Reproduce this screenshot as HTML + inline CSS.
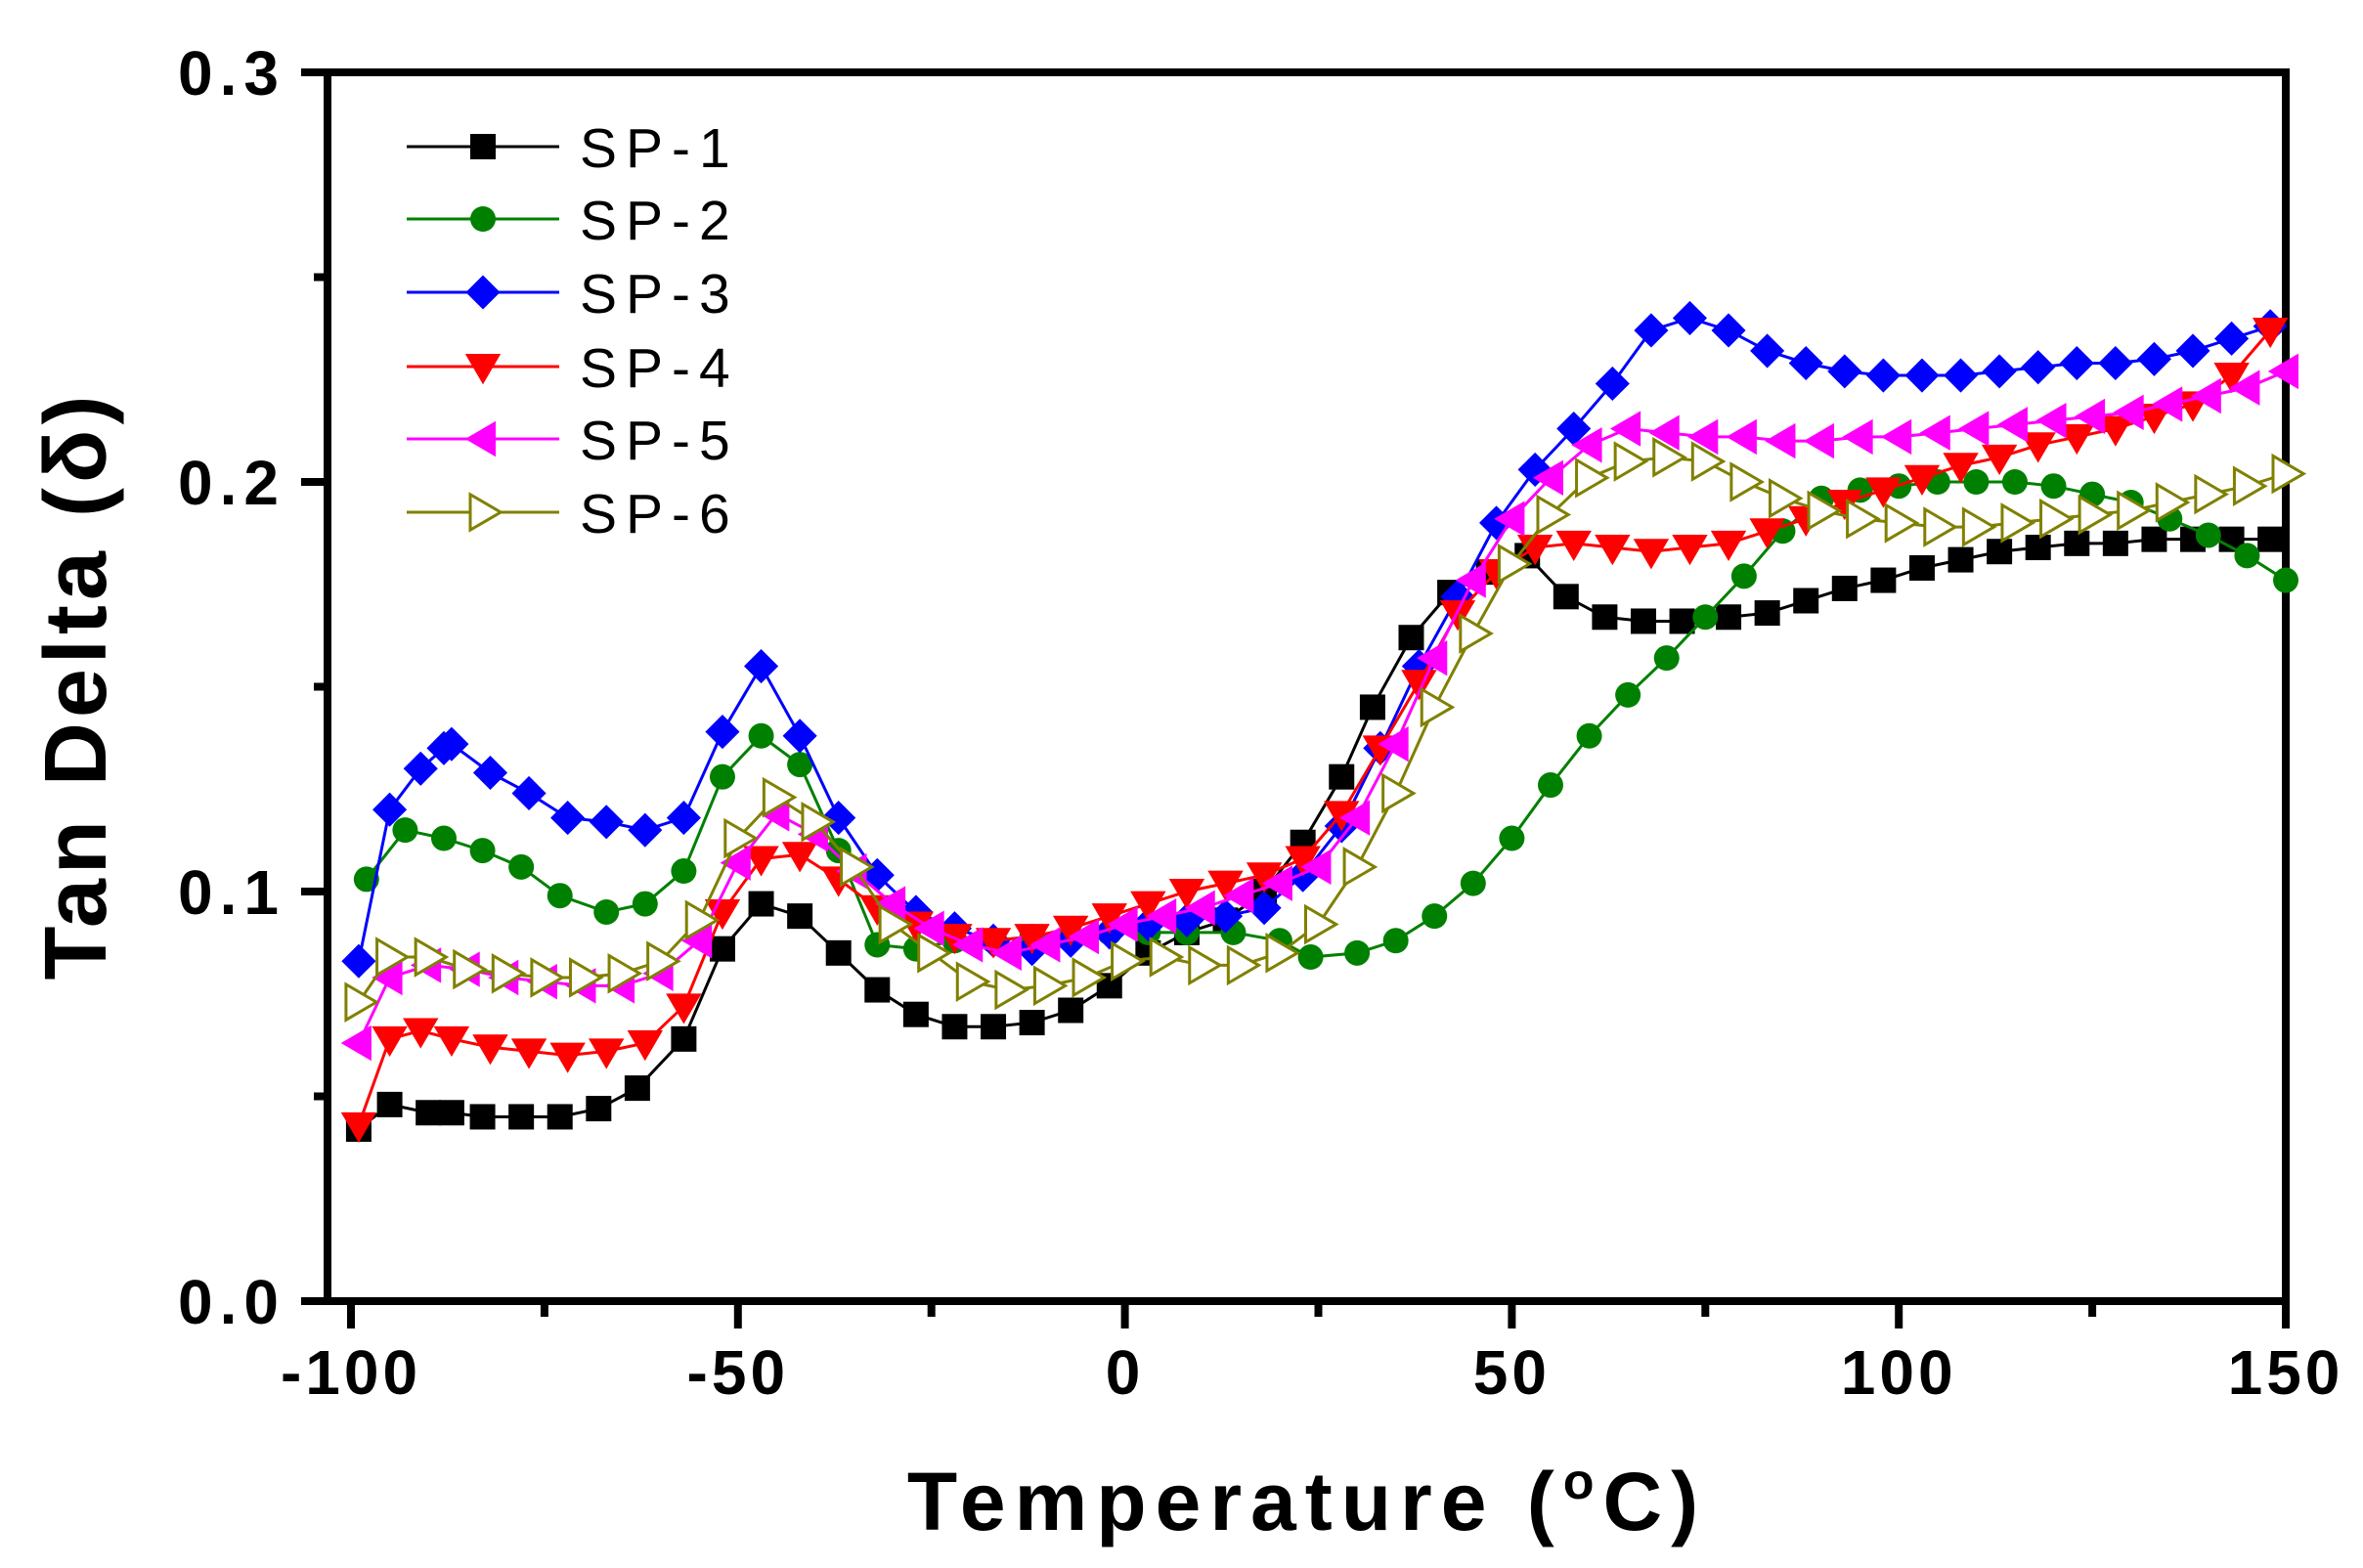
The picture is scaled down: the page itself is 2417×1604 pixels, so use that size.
<!DOCTYPE html>
<html><head><meta charset="utf-8">
<style>
html,body{margin:0;padding:0;background:#fff;}
svg{display:block;}
text{font-family:"Liberation Sans",Arial,sans-serif;}
</style></head>
<body>
<svg id="chart" width="2417" height="1604" viewBox="0 0 2417 1604" xmlns="http://www.w3.org/2000/svg">
<g id="axes"></g>
<g id="series"></g>
<g id="legend"></g>
<text x="0" y="0" transform="translate(108,701) rotate(-90)" text-anchor="middle" font-size="90" font-weight="bold" letter-spacing="5">Tan Delta (δ)</text>
<text x="1337" y="1565" text-anchor="middle" font-size="84" font-weight="bold" letter-spacing="9">Temperature (<tspan font-size="52" dy="-32">o</tspan><tspan dy="32">C)</tspan></text>
</svg>
<script>
const xTicks=[-100,-50,0,50,100,150];
const yTicks=[0.0,0.1,0.2,0.3];
const yTickLabels=["0.0","0.1","0.2","0.3"];
const seriesNames=["SP-1","SP-2","SP-3","SP-4","SP-5","SP-6"];
const sp1X=[-99,-95,-90,-87,-83,-78,-73,-68,-63,-57,-52,-47,-42,-37,-32,-27,-22,-17,-12,-7,-2,3,8,13,18,23,28,32,37,42,47,52,57,62,67,72,78,83,88,93,98,103,108,113,118,123,128,133,138,143,148];
const sp1Y=[0.042,0.048,0.046,0.046,0.045,0.045,0.045,0.047,0.052,0.064,0.086,0.097,0.094,0.085,0.076,0.070,0.067,0.067,0.068,0.071,0.077,0.085,0.090,0.093,0.100,0.112,0.128,0.145,0.162,0.173,0.178,0.182,0.172,0.167,0.166,0.166,0.167,0.168,0.171,0.174,0.176,0.179,0.181,0.183,0.184,0.185,0.185,0.186,0.186,0.186,0.186];
const sp2X=[-98,-93,-88,-83,-78,-73,-67,-62,-57,-52,-47,-42,-37,-32,-27,-22,-17,-12,-7,-2,3,8,14,20,24,30,35,40,45,50,55,60,65,70,75,80,85,90,95,100,105,110,115,120,125,130,135,140,145,150];
const sp2Y=[0.103,0.115,0.113,0.110,0.106,0.099,0.095,0.097,0.105,0.128,0.138,0.131,0.110,0.087,0.086,0.088,0.088,0.089,0.089,0.090,0.090,0.090,0.090,0.088,0.084,0.085,0.088,0.094,0.102,0.113,0.126,0.138,0.148,0.157,0.167,0.177,0.188,0.196,0.198,0.199,0.200,0.200,0.200,0.199,0.197,0.195,0.191,0.187,0.182,0.176];
const sp3X=[-99,-95,-91,-88,-87,-82,-77,-72,-67,-62,-57,-52,-47,-42,-37,-32,-27,-22,-17,-12,-7,-2,3,8,13,18,23,28,33,38,43,48,53,58,63,68,73,78,83,88,93,98,103,108,113,118,123,128,133,138,143,148];
const sp3Y=[0.083,0.120,0.130,0.135,0.136,0.129,0.124,0.118,0.117,0.115,0.118,0.139,0.155,0.138,0.118,0.104,0.095,0.091,0.088,0.086,0.088,0.090,0.092,0.093,0.094,0.096,0.104,0.116,0.135,0.155,0.172,0.190,0.203,0.213,0.224,0.237,0.240,0.237,0.232,0.229,0.227,0.226,0.226,0.226,0.227,0.228,0.229,0.229,0.230,0.232,0.235,0.238];
const sp4X=[-99,-95,-91,-87,-82,-77,-72,-67,-62,-57,-52,-47,-42,-37,-32,-27,-22,-17,-12,-7,-2,3,8,13,18,23,28,33,38,43,48,53,58,63,68,73,78,83,88,93,98,103,108,113,118,123,128,133,138,143,148];
const sp4Y=[0.043,0.064,0.066,0.064,0.062,0.061,0.060,0.061,0.063,0.072,0.095,0.108,0.109,0.103,0.096,0.092,0.089,0.088,0.089,0.091,0.094,0.097,0.100,0.102,0.104,0.108,0.119,0.135,0.151,0.168,0.178,0.184,0.185,0.184,0.183,0.184,0.185,0.188,0.191,0.195,0.198,0.201,0.204,0.206,0.209,0.211,0.213,0.216,0.219,0.226,0.237];
const sp5X=[-99,-95,-90,-85,-80,-75,-70,-65,-60,-55,-50,-45,-40,-35,-30,-25,-20,-15,-10,-5,0,5,10,15,20,25,30,35,40,45,50,55,60,65,70,75,80,85,90,95,100,105,110,115,120,125,130,135,140,145,150];
const sp5Y=[0.063,0.079,0.082,0.081,0.079,0.078,0.077,0.077,0.080,0.088,0.107,0.119,0.114,0.105,0.097,0.091,0.087,0.085,0.087,0.089,0.092,0.094,0.096,0.099,0.102,0.106,0.118,0.136,0.157,0.176,0.191,0.201,0.209,0.213,0.212,0.211,0.211,0.210,0.210,0.211,0.211,0.212,0.213,0.214,0.215,0.216,0.217,0.219,0.221,0.223,0.227];
const sp6X=[-99,-95,-90,-85,-80,-75,-70,-65,-60,-55,-50,-45,-40,-35,-30,-25,-20,-15,-10,-5,0,5,10,15,20,25,30,35,40,45,50,55,60,65,70,75,80,85,90,95,100,105,110,115,120,125,130,135,140,145,150];
const sp6Y=[0.073,0.084,0.084,0.081,0.080,0.079,0.079,0.080,0.083,0.093,0.113,0.123,0.117,0.106,0.092,0.085,0.078,0.076,0.077,0.079,0.083,0.084,0.082,0.082,0.085,0.092,0.106,0.124,0.145,0.163,0.180,0.192,0.201,0.205,0.206,0.205,0.200,0.196,0.193,0.191,0.190,0.189,0.189,0.190,0.191,0.192,0.193,0.195,0.197,0.199,0.202];

const NS="http://www.w3.org/2000/svg";
const L=335,R=2338,T=74,B=1331;
const X0=359,X1=2338;
function sx(v){return X0+(v-(-100))*(X1-X0)/250;}
function sy(v){return B-(v/0.3)*(B-T);}
function mk(tag,attrs,parent){const e=document.createElementNS(NS,tag);for(const k in attrs)e.setAttribute(k,attrs[k]);parent.appendChild(e);return e;}

const axes=document.getElementById('axes');
const frame=mk('rect',{x:L,y:T,width:R-L,height:B-T,fill:'none',stroke:'#000','stroke-width':8},axes);


for(let i=0;i<yTicks.length;i++){
  const y=sy(yTicks[i]);
  const t=mk('line',{x1:L-27,x2:L,y1:y,y2:y,stroke:'#000','stroke-width':8},axes);
  
  
  const lb=mk('text',{x:292,y:y+23,'text-anchor':'end','font-size':64,'font-weight':'bold','letter-spacing':7},axes);
  lb.textContent=yTickLabels[i];
  
  
  if(i<yTicks.length-1){
    const ym=sy(yTicks[i]+0.05);
    const m=mk('line',{x1:L-14,x2:L,y1:ym,y2:ym,stroke:'#000','stroke-width':8},axes);
    
    
  }
}
for(let i=0;i<xTicks.length;i++){
  const x=sx(xTicks[i]);
  const t=mk('line',{x1:x,x2:x,y1:B,y2:B+28,stroke:'#000','stroke-width':8},axes);
  
  
  const lb=mk('text',{x:x,y:B+95,'text-anchor':'middle','font-size':64,'font-weight':'bold','letter-spacing':4},axes);
  lb.textContent=String(xTicks[i]);
  
  
  if(i<xTicks.length-1){
    const xm=sx(xTicks[i]+25);
    const m=mk('line',{x1:xm,x2:xm,y1:B,y2:B+16,stroke:'#000','stroke-width':8},axes);
    
    
  }
}

const colors=['#000000','#008000','#0000ff','#ff0000','#ff00ff','#808000'];
const shapes=['square','circle','diamond','down','left','right-open'];
const xs=[sp1X,sp2X,sp3X,sp4X,sp5X,sp6X];
const ys=[sp1Y,sp2Y,sp3Y,sp4Y,sp5Y,sp6Y];

function marker(shape,x,y,c,parent){
  const s=13;
  let e;
  if(shape==='square') e=mk('rect',{x:x-s,y:y-s,width:2*s,height:2*s,fill:c},parent);
  else if(shape==='circle') e=mk('circle',{cx:x,cy:y,r:s,fill:c},parent);
  else if(shape==='diamond') e=mk('polygon',{points:`${x},${y-s*1.35} ${x+s*1.35},${y} ${x},${y+s*1.35} ${x-s*1.35},${y}`,fill:c},parent);
  else if(shape==='down') e=mk('polygon',{points:`${x-s*1.4},${y-s} ${x+s*1.4},${y-s} ${x},${y+s*1.4}`,fill:c},parent);
  else if(shape==='left') e=mk('polygon',{points:`${x+s},${y-s*1.4} ${x+s},${y+s*1.4} ${x-s*1.4},${y}`,fill:c},parent);
  else e=mk('polygon',{points:`${x-s},${y-s*1.4} ${x-s},${y+s*1.4} ${x+s*1.4},${y}`,fill:'#fff',stroke:c,'stroke-width':3},parent);
  return e;
}

const sg=document.getElementById('series');
for(let k=0;k<6;k++){
  const g=mk('g',{},sg);
  
  
  const pts=xs[k].map((v,i)=>sx(v)+','+sy(ys[k][i])).join(' ');
  const pl=mk('polyline',{points:pts,fill:'none',stroke:colors[k],'stroke-width':3},g);
  
  
  for(let i=0;i<xs[k].length;i++){
    const m=marker(shapes[k],sx(xs[k][i]),sy(ys[k][i]),colors[k],g);
    
    
  }
}

const lg=document.getElementById('legend');
const rowY=[150,224,299,375,449,524];
for(let k=0;k<6;k++){
  const g=mk('g',{},lg);
  
  
  const ln=mk('line',{x1:416,x2:572,y1:rowY[k],y2:rowY[k],stroke:colors[k],'stroke-width':3},g);
  
  
  const m=marker(shapes[k],494,rowY[k],colors[k],g);
  
  
  const t=mk('text',{x:593,y:rowY[k]+21,'font-size':57,'letter-spacing':9},g);
  t.textContent=seriesNames[k];
  
  
}
</script>
</body></html>
